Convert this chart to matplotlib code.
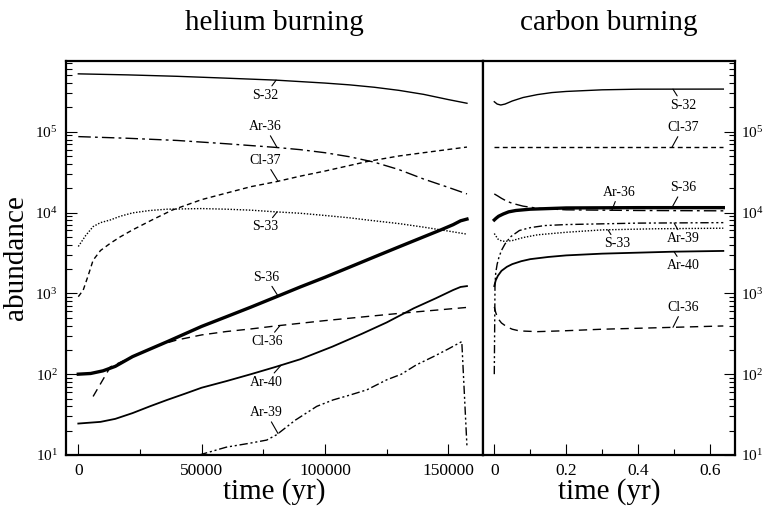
import numpy as np
import matplotlib.pyplot as plt
from matplotlib.ticker import LogLocator, MultipleLocator, NullFormatter, FixedLocator

plt.rcParams['font.family'] = 'Liberation Serif'
plt.rcParams['mathtext.fontset'] = 'custom'
plt.rcParams['mathtext.rm'] = 'Liberation Serif'
plt.rcParams['mathtext.it'] = 'Liberation Serif:italic'
plt.rcParams['lines.scale_dashes'] = False

# ---- helium burning (time in yr) ----
t_s32_he = [0, 20000, 40000, 60000, 80000, 100000, 110000, 120000, 130000, 140000, 150000, 157600]
s32_he = [5.2e5, 5.05e5, 4.85e5, 4.6e5, 4.35e5, 4.0e5, 3.8e5, 3.55e5, 3.25e5, 2.9e5, 2.5e5, 2.25e5]

t_ar36_he = [0, 20000, 40000, 60000, 80000, 90000, 100000, 110000, 120000, 130000, 140000, 150000, 157600]
ar36_he = [8.7e4, 8.3e4, 7.8e4, 7.1e4, 6.4e4, 6.0e4, 5.5e4, 4.9e4, 4.2e4, 3.4e4, 2.6e4, 2.05e4, 1.7e4]

t_cl37_he = [0, 2000, 4000, 6000, 9000, 13000, 17000, 22000, 30000, 38000, 50000, 60000, 70000,
             80000, 90000, 100000, 117000, 130000, 140000, 150000, 157600]
cl37_he = [910, 1100, 1660, 2570, 3390, 4170, 5000, 6100, 8130, 10700, 14450, 17400, 20900,
           24000, 28200, 32600, 42700, 50100, 55000, 60300, 64600]

t_s33_he = [0, 3000, 6000, 9000, 13000, 17000, 22000, 29000, 36000, 50000, 60000, 70000, 80000,
            90000, 100000, 110000, 117000, 130000, 140000, 150000, 157600]
s33_he = [3800, 5200, 6700, 7500, 8100, 9000, 9900, 10600, 11000, 11200, 11000, 10700, 10200,
          9800, 9200, 8600, 8100, 7300, 6600, 5900, 5400]

t_s36_he = [0, 5000, 10000, 15000, 22000, 29000, 36000, 50000, 60000, 70000, 80000, 90000, 100000,
            110000, 120000, 130000, 140000, 147000, 152000, 155000, 157600]
s36_he = [100, 102, 110, 125, 165, 204, 252, 390, 513, 676, 900, 1200, 1580,
          2110, 2820, 3760, 5000, 6100, 7080, 7900, 8300]

t_cl36_he = [6000, 13000, 22000, 32000, 40000, 50000, 60000, 70000, 80000, 100000, 130000, 157600]
cl36_he = [53, 123, 165, 225, 265, 306, 337, 363, 395, 460, 565, 670]

t_ar40_he = [0, 9000, 15000, 22000, 29000, 36000, 43000, 50000, 60000, 70000, 80000, 90000, 103000,
             115000, 125000, 136000, 145000, 152000, 155000, 157600]
ar40_he = [24.5, 25.7, 28, 33, 40, 48, 57, 68, 82, 100, 123, 153, 219,
           316, 436, 653, 870, 1100, 1200, 1230]

t_ar39_he = [49000, 60000, 69600, 76400, 80400, 88000, 96700, 103300, 110000, 117000, 125000,
             131000, 137000, 144000, 150000, 155500, 157600]
ar39_he = [10, 12.5, 14, 15.3, 17.8, 27, 40, 48, 55, 64, 85, 100, 130, 165, 205, 253, 12.7]

# ---- carbon burning (time in yr) ----
t_s32_c = [0, 0.008, 0.018, 0.03, 0.05, 0.08, 0.12, 0.16, 0.2, 0.3, 0.4, 0.637]
s32_c = [2.35e5, 2.2e5, 2.14e5, 2.2e5, 2.4e5, 2.65e5, 2.88e5, 3.05e5, 3.15e5, 3.3e5, 3.36e5, 3.37e5]

t_cl37_c = [0, 0.2, 0.4, 0.637]
cl37_c = [6.4e4, 6.4e4, 6.4e4, 6.4e4]

t_ar36_c = [0, 0.01, 0.02, 0.035, 0.05, 0.08, 0.12, 0.2, 0.4, 0.637]
ar36_c = [1.7e4, 1.6e4, 1.5e4, 1.38e4, 1.3e4, 1.2e4, 1.13e4, 1.08e4, 1.06e4, 1.05e4]

t_s36_c = [0, 0.005, 0.012, 0.025, 0.04, 0.06, 0.1, 0.2, 0.4, 0.637]
s36_c = [8100, 8500, 9000, 9600, 10200, 10600, 11000, 11400, 11500, 11500]

t_ar39_c = [0, 0.002, 0.004, 0.008, 0.013, 0.02, 0.03, 0.045, 0.07, 0.1, 0.14, 0.2, 0.4, 0.637]
ar39_c = [100, 1300, 1800, 2300, 2800, 3400, 4100, 5000, 6000, 6500, 6900, 7100, 7400, 7500]

t_s33_c = [0, 0.01, 0.02, 0.03, 0.05, 0.08, 0.12, 0.2, 0.3, 0.45, 0.637]
s33_c = [5500, 4700, 4450, 4400, 4500, 4900, 5300, 5700, 6100, 6300, 6400]

t_ar40_c = [0, 0.004, 0.01, 0.02, 0.035, 0.05, 0.075, 0.1, 0.15, 0.2, 0.3, 0.5, 0.637]
ar40_c = [1230, 1450, 1650, 1900, 2130, 2300, 2500, 2650, 2820, 2950, 3100, 3280, 3350]

t_cl36_c = [0, 0.004, 0.01, 0.02, 0.035, 0.05, 0.07, 0.12, 0.2, 0.3, 0.45, 0.637]
cl36_c = [680, 580, 490, 430, 385, 360, 343, 336, 345, 360, 375, 395]

# line style per isotope
style = {
    'S-32': dict(color='k', lw=1.0, ls='-'),
    'Ar-36': dict(color='k', lw=1.0, dashes=(9, 3, 2, 3)),
    'Cl-37': dict(color='k', lw=1.0, dashes=(3.5, 2.5)),
    'S-33': dict(color='k', lw=1.0, dashes=(1, 1.2)),
    'S-36': dict(color='k', lw=2.4, ls='-'),
    'Cl-36': dict(color='k', lw=1.0, dashes=(6, 4)),
    'Ar-40': dict(color='k', lw=1.3, ls='-'),
    'Ar-39': dict(color='k', lw=1.0, dashes=(6, 2, 1.5, 2, 1.5, 2)),
}

fig = plt.figure(figsize=(7.63, 5.08), dpi=100)
ax1 = fig.add_axes([66 / 763, 53 / 508, 417 / 763, 394 / 508])
ax2 = fig.add_axes([483 / 763, 53 / 508, 252 / 763, 394 / 508])

he = [('S-32', t_s32_he, s32_he), ('Ar-36', t_ar36_he, ar36_he), ('Cl-37', t_cl37_he, cl37_he),
      ('S-33', t_s33_he, s33_he), ('S-36', t_s36_he, s36_he), ('Cl-36', t_cl36_he, cl36_he),
      ('Ar-40', t_ar40_he, ar40_he), ('Ar-39', t_ar39_he, ar39_he)]
cb = [('S-32', t_s32_c, s32_c), ('Cl-37', t_cl37_c, cl37_c), ('Ar-36', t_ar36_c, ar36_c),
      ('S-36', t_s36_c, s36_c), ('Ar-39', t_ar39_c, ar39_c), ('S-33', t_s33_c, s33_c),
      ('Ar-40', t_ar40_c, ar40_c), ('Cl-36', t_cl36_c, cl36_c)]

for name, t, v in he:
    ax1.plot(t, v, **style[name])
for name, t, v in cb:
    ax2.plot(t, v, **style[name])


def tag(ax, t, v, name, tx, dx, dy):
    # leader from the curve at time tx to the label
    y = 10 ** np.interp(tx, t, np.log10(v))
    ax.annotate(name, xy=(tx, y), xytext=(dx, dy), textcoords='offset pixels',
                ha='center', va='center', fontsize=10,
                arrowprops=dict(arrowstyle='-', lw=0.8, color='k', shrinkA=0, shrinkB=0))


tag(ax1, t_s32_he, s32_he, 'S-32', 80200, -11, -15)
tag(ax1, t_ar36_he, ar36_he, 'Ar-36', 80600, -12, 21)
tag(ax1, t_cl37_he, cl37_he, 'Cl-37', 81000, -13, 21)
tag(ax1, t_s33_he, s33_he, 'S-33', 80600, -12, -15)
tag(ax1, t_s36_he, s36_he, 'S-36', 81000, -12, 19)
tag(ax1, t_cl36_he, cl36_he, 'Cl-36', 81800, -13, -16)
tag(ax1, t_ar40_he, ar40_he, 'Ar-40', 82200, -15, -17)
tag(ax1, t_ar39_he, ar39_he, 'Ar-39', 81000, -12, 21)

tag(ax2, t_s32_c, s32_c, 'S-32', 0.497, 10, -16)
tag(ax2, t_cl37_c, cl37_c, 'Cl-37', 0.494, 11, 20)
tag(ax2, t_ar36_c, ar36_c, 'Ar-36', 0.327, 7, 18)
tag(ax2, t_s36_c, s36_c, 'S-36', 0.494, 11, 20)
tag(ax2, t_s33_c, s33_c, 'S-33', 0.316, 9, -14)
tag(ax2, t_ar39_c, ar39_c, 'Ar-39', 0.5, 9, -16)
tag(ax2, t_ar40_c, ar40_c, 'Ar-40', 0.5, 9, -14)
tag(ax2, t_cl36_c, cl36_c, 'Cl-36', 0.497, 10, 20)

for ax in (ax1, ax2):
    ax.set_yscale('log')
    ax.set_ylim(10, 7.5e5)
    ax.yaxis.set_major_locator(LogLocator(base=10, numticks=10))
    ax.yaxis.set_minor_locator(LogLocator(base=10, subs=np.arange(2, 10), numticks=10))
    ax.yaxis.set_minor_formatter(NullFormatter())
    for sp in ax.spines.values():
        sp.set_linewidth(1.6)
    ax.tick_params(which='both', direction='in', width=0.8, top=False)
    ax.tick_params(which='major', length=8)
    ax.tick_params(which='minor', length=4)
    ax.tick_params(axis='x', labelsize=12.5, pad=6)
    ax.tick_params(axis='y', labelsize=11)
    ax.set_xlabel('time (yr)', fontsize=21, labelpad=-1)

ax1.set_xlim(-4990, 164100)
ax1.xaxis.set_major_locator(FixedLocator([0, 50000, 100000, 150000]))
ax1.xaxis.set_minor_locator(MultipleLocator(25000))
ax1.tick_params(axis='y', left=True, right=False, pad=6)
ax1.set_ylabel('abundance', fontsize=21, labelpad=4)
ax1.set_title('helium burning', fontsize=21, pad=22)

ax2.set_xlim(-0.0314, 0.6695)
ax2.xaxis.set_major_locator(FixedLocator([0, 0.2, 0.4, 0.6]))
ax2.xaxis.set_major_formatter(plt.FuncFormatter(lambda x, p: '0' if x == 0 else f'{x:.1f}'))
ax2.xaxis.set_minor_locator(MultipleLocator(0.1))
ax2.tick_params(axis='y', which='both', left=False, right=True, labelleft=False, labelright=True, pad=4)
ax2.set_title('carbon burning', fontsize=21, pad=22)

fig.savefig('out.png', dpi=100)
